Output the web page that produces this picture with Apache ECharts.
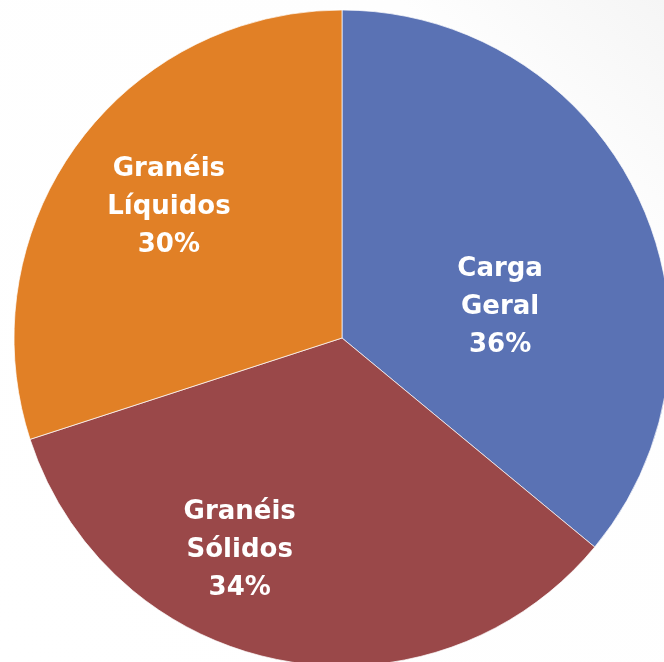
<!DOCTYPE html>
<html>
<head>
<meta charset="utf-8">
<script src="https://cdn.jsdelivr.net/npm/echarts@6/dist/echarts.min.js"></script>
<style>
  html, body { margin: 0; padding: 0; background: #fff; }
  #main { width: 664px; height: 662px; }
</style>
</head>
<body>
<div id="main"></div>
<script>
// categorias e percentuais
const categorias = ['Carga Geral', 'Granéis Sólidos', 'Granéis Líquidos']
const valores = [36, 34, 30]
const cores = ['#5a72b4', '#9a4849', '#e18026']
// deslocamento dos rótulos
const offsets = [[7, 40], [-71, 48], [-38, -33]]

const myChart = echarts.init(document.getElementById('main'))
myChart.setOption({
  // fundo quase branco, levemente cinza na borda direita
  backgroundColor: {
    type: 'linear', x: 0, y: 1, x2: 1, y2: 0,
    colorStops: [
      { offset: 0, color: '#ffffff' },
      { offset: 0.8, color: '#fefefe' },
      { offset: 1, color: '#f5f5f5' }
    ]
  },
  animation: false,
  series: [{
    type: 'pie',
    center: [342, 338],
    radius: [0, 328],
    startAngle: 90,
    clockwise: true,
    itemStyle: { borderColor: 'rgba(255,255,255,0.7)', borderWidth: 1 },
    label: {
      show: true,
      position: 'inside',
      color: '#fff',
      fontFamily: 'DejaVu Sans',
      fontWeight: 'bold',
      fontSize: 26,
      lineHeight: 38,
      align: 'center',
      formatter: p => p.name.replace(' ', '\n') + '\n' + p.value + '%'
    },
    labelLine: { show: false },
    emphasis: { disabled: true },
    data: categorias.map((c, i) => ({
      name: c,
      value: valores[i],
      itemStyle: { color: cores[i] },
      label: { offset: offsets[i] }
    }))
  }]
})
</script>
</body>
</html>
